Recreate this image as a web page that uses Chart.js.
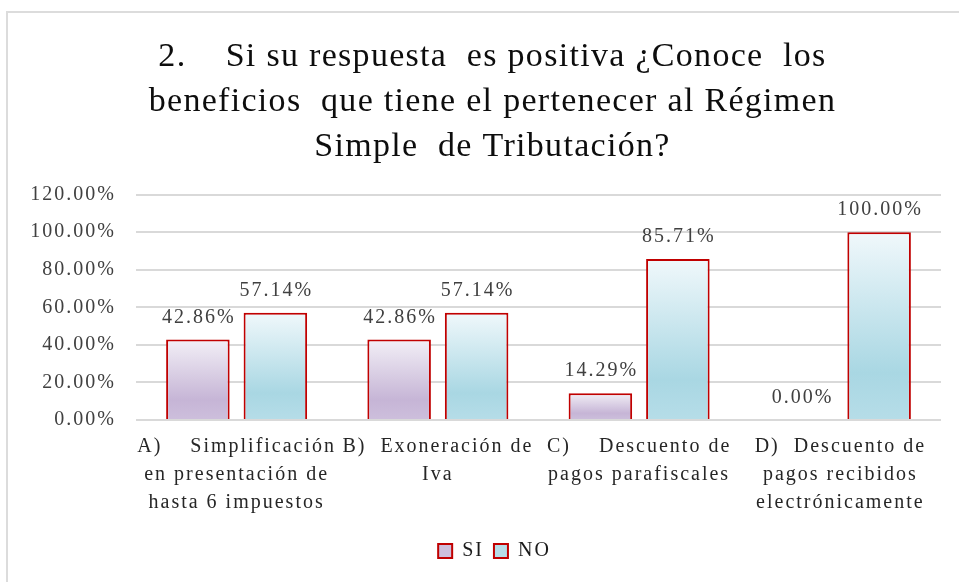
<!DOCTYPE html>
<html lang="es">
<head>
  <meta charset="UTF-8">
  <title>Régimen Simple de Tributación</title>
  <style>
    body {
      margin: 0;
      background: #ffffff;
      overflow: hidden;
    }
    #frame {
      position: absolute;
      left: 6px;
      top: 11px;
      width: 966px;
      height: 580px;
      border-left: 2px solid #dcdcdc;
      border-top: 2px solid #dcdcdc;
    }
  </style>
</head>
<body>
  <div id="frame"><canvas id="chart" width="966" height="575"></canvas></div>

  <script src="https://cdn.jsdelivr.net/npm/chart.js"></script>
  <script>
    // chart data
    const categories = [
      ["A)    Simplificación", "en presentación de", "hasta 6 impuestos"],
      ["B)  Exoneración de", "Iva"],
      ["C)    Descuento de", "pagos parafiscales"],
      ["D)  Descuento de", "pagos recibidos", "electrónicamente"]
    ];
    const siValues = [42.86, 42.86, 14.29, 0.00];
    const noValues = [57.14, 57.14, 85.71, 100.00];
    const seriesNames = ["SI", "NO"];
    const titleLines = [
      "2.    Si su respuesta  es positiva ¿Conoce  los",
      "beneficios  que tiene el pertenecer al Régimen",
      "Simple  de Tributación?"
    ];

    const serif = "'Liberation Serif', 'Times New Roman', serif";
    const borderRed = "#c00000";

    // vertical gradient per bar, like the Excel fill
    function barFill(stops, fallback) {
      return function (ctx) {
        const chart = ctx.chart;
        if (!chart.chartArea || ctx.type !== "data") return fallback;
        const y = chart.scales.y;
        const top = y.getPixelForValue(ctx.raw);
        const base = y.getPixelForValue(0);
        if (base - top < 1) return fallback;
        const g = chart.ctx.createLinearGradient(0, top, 0, base);
        g.addColorStop(0, stops[0]);
        g.addColorStop(0.75, stops[1]);
        g.addColorStop(1, stops[2]);
        return g;
      };
    }

    // wrap a box's draw so it gets its own letter spacing and a small x shift
    function tweakBox(chart, box, spacingPx, shiftX) {
      if (!box || box._tweaked) return;
      const orig = box.draw.bind(box);
      box.draw = function (area) {
        const c = chart.ctx;
        c.save();
        c.letterSpacing = spacingPx;
        c.translate(shiftX, 0);
        orig(area);
        c.restore();
      };
      box._tweaked = true;
    }

    // the original text is set wide, so space the letters out a bit
    const spacing = {
      id: "spacing",
      beforeLayout(chart) { chart.ctx.letterSpacing = "2px"; },
      beforeDraw(chart) {
        chart.ctx.letterSpacing = "2px";
        tweakBox(chart, chart.titleBlock, "1.3px", 7);
        tweakBox(chart, chart.legend, "2px", 9);
      }
    };

    // simple value labels above each bar
    const valueLabels = {
      id: "valueLabels",
      afterDatasetsDraw(chart) {
        const c = chart.ctx;
        c.save();
        c.font = "20px " + serif;
        c.fillStyle = "#404040";
        c.textAlign = "center";
        c.textBaseline = "bottom";
        chart.data.datasets.forEach((ds, i) => {
          chart.getDatasetMeta(i).data.forEach((bar, j) => {
            c.fillText(ds.data[j].toFixed(2) + "%", bar.x + 1, bar.y - 12);
          });
        });
        c.restore();
      }
    };

    new Chart(document.getElementById("chart"), {
      type: "bar",
      data: {
        labels: categories,
        datasets: [
          {
            label: seriesNames[0],
            data: siValues,
            backgroundColor: barFill(["#f2eff6", "#c6b5d6", "#cdbfdc"], "#ddd4e8"),
            borderColor: borderRed,
            borderWidth: 2
          },
          {
            label: seriesNames[1],
            data: noValues,
            backgroundColor: barFill(["#f0f8fb", "#a9d7e3", "#b6dde8"], "#cfeaf1"),
            borderColor: borderRed,
            borderWidth: 2
          }
        ]
      },
      options: {
        responsive: false,
        animation: false,
        categoryPercentage: 0.77,
        barPercentage: 0.82,
        layout: { padding: { left: 22, right: 33, top: 0, bottom: 17 } },
        plugins: {
          title: {
            display: true,
            text: titleLines,
            color: "#0d0d0d",
            font: { family: serif, size: 34, weight: "normal", lineHeight: 1.32 },
            padding: { top: 22, bottom: 25 }
          },
          legend: {
            position: "bottom",
            labels: {
              color: "#1a1a1a",
              font: { family: serif, size: 20 },
              boxWidth: 14,
              boxHeight: 14,
              padding: 10
            }
          },
          tooltip: { enabled: false }
        },
        scales: {
          x: {
            grid: { display: false },
            border: { display: false },
            afterFit(scale) { scale.height += 9; },
            ticks: {
              color: "#262626",
              font: { family: serif, size: 20, lineHeight: 1.4 },
              maxRotation: 0,
              autoSkip: false,
              padding: 5
            }
          },
          y: {
            min: 0,
            max: 120,
            afterFit(scale) { scale.width = 106; },
            grid: { color: "#d9d9d9", lineWidth: 2, drawTicks: false },
            border: { display: false },
            ticks: {
              stepSize: 20,
              color: "#404040",
              font: { family: serif, size: 20 },
              padding: 20,
              callback: v => v.toFixed(2) + "%"
            }
          }
        }
      },
      plugins: [spacing, valueLabels]
    });
  </script>
</body>
</html>
